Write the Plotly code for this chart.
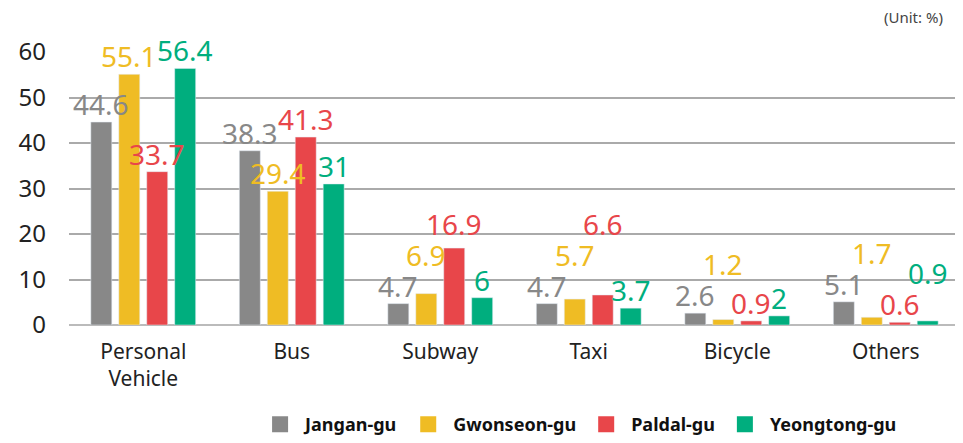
import plotly.graph_objects as go

categories = ["Personal<br>Vehicle", "Bus", "Subway", "Taxi", "Bicycle", "Others"]
series_names = ["Jangan-gu", "Gwonseon-gu", "Paldal-gu", "Yeongtong-gu"]
jangan = [44.6, 38.3, 4.7, 4.7, 2.6, 5.1]
gwonseon = [55.1, 29.4, 6.9, 5.7, 1.2, 1.7]
paldal = [33.7, 41.3, 16.9, 6.6, 0.9, 0.6]
yeongtong = [56.4, 31, 6, 3.7, 2, 0.9]
colors = ["#888888", "#EFBC24", "#E8464A", "#00AE7E"]
y_ticks = [0, 10, 20, 30, 40, 50, 60]

# layout constants
W, H = 955, 435
ML, MR, MT, MB = 61, 3, 44, 118
BARGAP, BARGROUPGAP = 0.247, 0.25
YMAX = 60
LABEL_SIZE = 28

all_series = [jangan, gwonseon, paldal, yeongtong]

fig = go.Figure()
for name, vals, col in zip(series_names, all_series, colors):
    fig.add_trace(go.Bar(
        x=categories, y=vals, name=name, marker_color=col, showlegend=False,
    ))
    fig.add_trace(go.Scatter(
        x=[None], y=[None], mode="markers", name=name,
        marker=dict(symbol="square", size=20, color=col),
    ))

# value labels, staggered upward where they would collide
plot_w = W - ML - MR
plot_h = H - MT - MB
px_per_unit = plot_h / YMAX
cat_w = plot_w / len(categories)
slot = cat_w * (1 - BARGAP) / len(all_series)
box_h = 31
pad = 18


def text_w(s):
    n_dig = sum(ch.isdigit() for ch in s)
    n_dot = s.count(".")
    return 0.572 * LABEL_SIZE * n_dig + 0.265 * LABEL_SIZE * n_dot


annotations = []
for ci, cat in enumerate(categories):
    placed = []
    for si, (vals, col) in enumerate(zip(all_series, colors)):
        v = vals[ci]
        txt = f"{v:g}"
        w = text_w(txt)
        cx = (si - (len(all_series) - 1) / 2) * slot
        c = v * px_per_unit + pad
        moved = True
        while moved:
            moved = False
            for (px, pc, pw) in placed:
                if abs(cx - px) < (w + pw) / 2 and abs(c - pc) < box_h:
                    c = pc + box_h
                    moved = True
        placed.append((cx, c, w))
        annotations.append(dict(
            x=cat, y=v, xref="x", yref="y", text=txt, showarrow=False,
            xshift=cx, yshift=c - v * px_per_unit, xanchor="center", yanchor="middle",
            font=dict(size=LABEL_SIZE, color=col, family="Noto Sans"),
        ))

annotations.append(dict(text="(Unit: %)", xref="paper", yref="paper", x=(937 - ML) / plot_w,
                        y=(MT + plot_h - 9) / plot_h, xanchor="right", yanchor="middle",
                        showarrow=False, font=dict(size=15, color="#444444")))

fig.update_layout(
    width=W, height=H,
    paper_bgcolor="white", plot_bgcolor="white",
    margin=dict(l=ML, r=MR, t=MT, b=MB, autoexpand=False),
    barmode="group", bargap=BARGAP, bargroupgap=BARGROUPGAP,
    font=dict(family="Noto Sans", color="#222222"),
    xaxis=dict(tickfont=dict(size=21, color="#222222"), showline=False, ticks="",
               automargin=False, ticklabelstandoff=12),
    yaxis=dict(range=[0, YMAX], tickvals=y_ticks, tickfont=dict(size=24, color="#222222"),
               gridcolor="#AAAAAA", gridwidth=1.5, zeroline=True, zerolinecolor="#BBBBBB",
               zerolinewidth=2, ticks="", ticklabelstandoff=22, automargin=False),
    legend=dict(orientation="h", x=0.935, xanchor="right", y=-0.365, yanchor="middle",
                font=dict(size=18, color="#111111", family="Noto Sans", weight="bold"),
                itemwidth=40, traceorder="normal"),
    annotations=annotations,
)
fig.write_html("out.html")
